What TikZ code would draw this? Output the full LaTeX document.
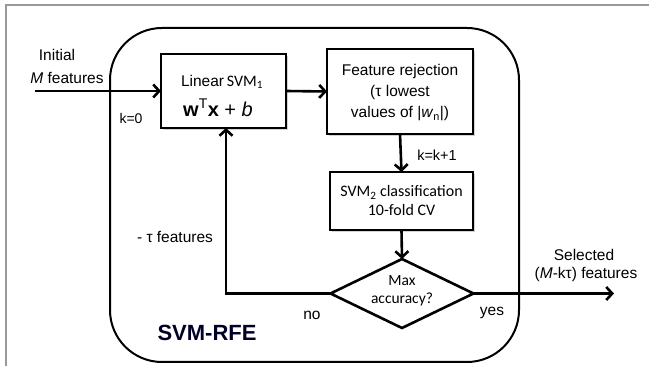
\documentclass[tikz,border=0pt]{standalone}
\usepackage{fontspec}
\setmainfont{Liberation Sans}
\newfontfamily\calfont{Carlito}
\usetikzlibrary{arrows.meta,shapes.geometric,shadows}
\begin{document}
\begin{tikzpicture}[x=1pt,y=-1pt,
  every node/.style={inner sep=0pt,outer sep=0pt},
  txt/.style={font=\fontsize{15.5}{17}\selectfont},
  btxt/.style={font=\calfont\fontsize{16}{18}\selectfont},
  procbox/.style={draw=black,line width=2.6pt,fill=white,
    drop shadow={shadow xshift=2pt,shadow yshift=-2pt,opacity=0.35,fill=gray}},
  conn/.style={line width=2.6pt,-{Straight Barb[length=6pt,width=13pt,line width=2.6pt]}}]
\useasboundingbox (0,0) rectangle (649,366);
% outer frame
\draw[gray!80,line width=2pt] (6,366) -- (6,5) -- (649,5);
% SVM-RFE container
\draw[black,line width=2pt,rounded corners=52pt] (110,28) rectangle (519,362);
\node[font=\bfseries\fontsize{22}{24}\selectfont,text=black!75!blue!60!black] (rfe) at (207,333) {SVM-RFE};
% boxes
\node[procbox,minimum width=125pt,minimum height=74pt] (lin) at (223.5,91) {};
\node[btxt] (lin1) at (222,82) {{\fontsize{15.5}{17}\selectfont\rmfamily Linear}\,SVM\textsubscript{1}};
\node[font=\fontsize{20}{22}\selectfont] (lin2) at (218,108) {\textbf{w}\textsuperscript{T}\textbf{x} + \textit{b}};
\node[procbox,minimum width=146pt,minimum height=85pt] (rej) at (400,91.5) {};
\node[txt,align=center] (rejt) at (400,93) {Feature rejection\\[4pt](τ lowest\\[4pt]values of |\textit{w}\textsubscript{n}|)};
\node[procbox,minimum width=143pt,minimum height=58pt] (cls) at (401.5,201) {};
\node[btxt,align=center] (clst) at (401.5,201) {SVM\textsubscript{2} classification\\[1pt]10-fold CV};
\node[diamond,draw=black,line width=2.6pt,fill=white,minimum width=143pt,minimum height=69pt,aspect=2.07] (dec) at (402,293.5) {};
\node[align=center,font=\calfont\fontsize{15.5}{17}\selectfont] (dect) at (402,291) {Max\\[1pt]accuracy?};
% input
\coordinate (in) at (35,91);
\node[txt] (init) at (57,55) {Initial};
\node[txt] (mf) at (67,78) {\textit{M} features};
\node[font=\fontsize{14}{16}\selectfont] (k0) at (131,118) {k=0};
\draw[conn] (in) -- (lin.west);
\draw[conn] (lin.east) -- (rej.west);
\draw[conn] (rej.south) -- (cls.north);
\node[font=\fontsize{14.5}{16}\selectfont] (kk) at (437,155) {k=k+1};
\draw[conn] (cls.south) -- (dec.north);
% feedback
\coordinate (fb) at (226,293.5);
\draw[conn] (dec.west) -- (fb) -- (lin.south -| fb);
\node[txt] (tau) at (175,237) {- τ features};
\node[txt] (no) at (312,315) {no};
% output
\coordinate (out) at (614,293.5);
\draw[conn] (dec.east) -- (out);
\node[txt] (yes) at (492,313) {yes};
\node[txt] (sel) at (584,255) {Selected};
\node[txt] (mk) at (586,274) {(\textit{M}-kτ) features};
\end{tikzpicture}
\end{document}
